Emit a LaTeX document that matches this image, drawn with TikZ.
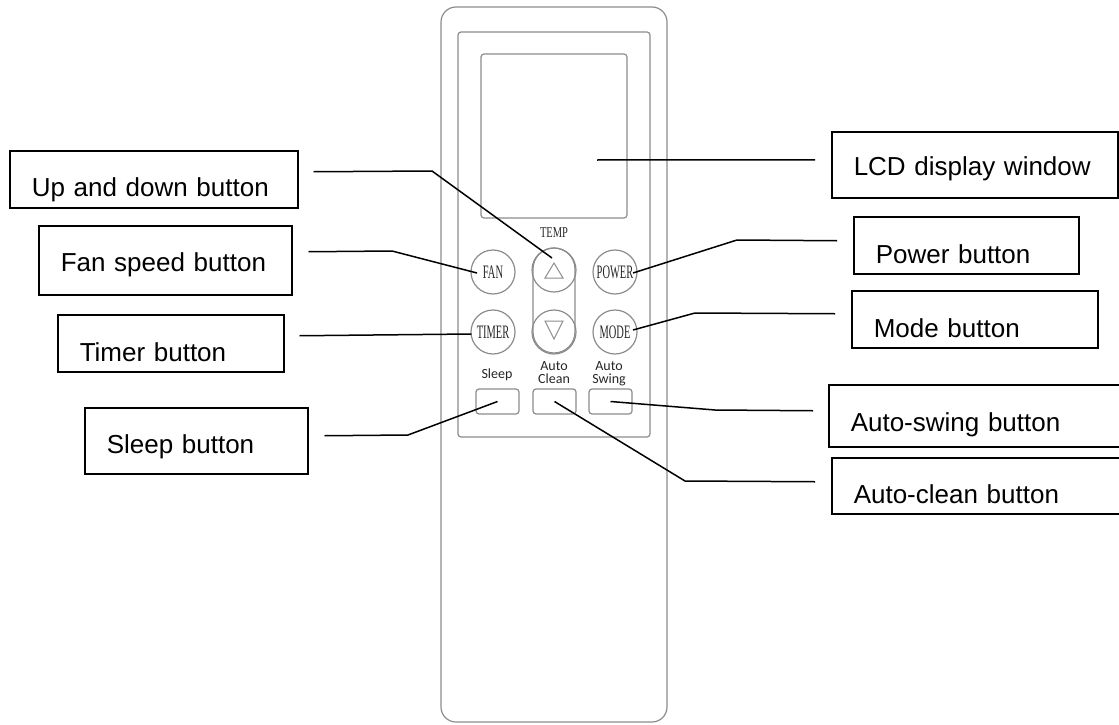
\documentclass[tikz,border=0pt]{standalone}
\usepackage{fontspec}
\setmainfont{Liberation Sans}
\newfontfamily\btnfont[FakeStretch=0.55]{Liberation Serif}
\newfontfamily\tempfont[FakeStretch=0.7]{Liberation Serif}
\newfontfamily\keyfont{Carlito}
\usepackage{tikz}

\begin{document}
\begin{tikzpicture}[x=1pt, y=-1pt,
	body/.style={draw=black!45, line width=1.2pt},
	btn/.style={body, circle, minimum size=44pt, inner sep=0pt, text=black!85, font=\btnfont\fontsize{19}{19}\selectfont},
	pad/.style={body, rounded corners=3pt, minimum width=43pt, minimum height=25pt},
	padtext/.style={anchor=north, align=center, inner sep=0pt, text=black!85, font=\keyfont\fontsize{14}{13}\selectfont},
	tag/.style={draw, line width=1.5pt, anchor=north west, align=left, inner xsep=22pt, inner ysep=0pt, text depth=0pt, text height=#1, font=\fontsize{26}{30}\selectfont},
	lead/.style={line width=1.5pt}]
	\useasboundingbox (0,0) rectangle (1119,725);
	\draw[body, rounded corners=15pt] (441,7) rectangle (667,722);
	\draw[body, rounded corners=3pt] (458,32) rectangle (650,437);
	\node[body, rounded corners=3pt, minimum width=146pt, minimum height=164pt] (lcd) at (554,136) {};
	\node[text=black!85, font=\tempfont\fontsize{15}{15}\selectfont] (temp) at (554,233) {TEMP};
	\draw[body, rounded corners=21pt] (533,248) rectangle (575,353);
	\foreach \n/\t/\x/\y in {fan/FAN/493/272, power/POWER/615/272, timer/TIMER/493/332, mode/MODE/615/332}
		\node[btn] (\n) at (\x,\y) {\t};
	\foreach \n/\y in {up/270, down/332}
		\node[btn] (\n) at (554,\y) {};
	\draw[body, line width=1pt] ([shift={(-9,8)}]up.center) -- ([shift={(9,8)}]up.center) -- ([shift={(0,-7)}]up.center) -- cycle;
	\draw[body, line width=1pt] ([shift={(-9,-11)}]down.center) -- ([shift={(9,-11)}]down.center) -- ([shift={(0,7)}]down.center) -- cycle;
	\foreach \n/\x in {sleep/497.5, clean/554.5, swing/610.5}
		\node[pad] (\n) at (\x,401.5) {};
	\node[padtext] (sleeptext) at (497,369) {Sleep};
	\node[padtext] (cleantext) at (554,361) {Auto\\Clean};
	\node[padtext] (swingtext) at (609,361) {Auto\\Swing};

	\node[tag=34.6pt, text width=244pt, minimum height=57pt] (updown) at (9,150) {Up and down button};
	\node[tag=21.6pt, text width=209pt, minimum height=69pt] (fanbox) at (38,225) {Fan speed button};
	\node[tag=35.6pt, text width=182pt, minimum height=57pt] (timerbox) at (57,314) {Timer button};
	\node[tag=25.6pt, text width=179pt, minimum height=66pt] (sleepbox) at (84,407) {Sleep button};
	\node[tag=20.6pt, text width=242pt, minimum height=66pt] (lcdbox) at (831,131) {LCD display window};
	\node[tag=35.6pt, text width=181pt, minimum height=57pt] (powerbox) at (853,216) {Power button};
	\node[tag=35.6pt, text width=202pt, minimum height=57pt] (modebox) at (851,290) {Mode button};
	\node[tag=30.6pt, text width=263pt, minimum height=62pt] (swingbox) at (828,384) {Auto-swing button};
	\node[tag=34.6pt, text width=260pt, minimum height=56pt] (cleanbox) at (831,457) {Auto-clean button};

	\draw[lead] ([shift={(15,-7.5)}]updown.east) -- (432,171) -- ([shift={(-2,-12)}]up.center);
	\draw[lead] ([shift={(16,-8.5)}]fanbox.east) -- (392,251) -- ([shift={(-16,1)}]fan.center);
	\draw[lead] ([shift={(15,-7.5)}]timerbox.east) -- ([shift={(1,2)}]timer.west);
	\draw[lead] ([shift={(16,-5)}]sleepbox.east) -- (408,435) -- (sleep.center);
	\draw[lead] ([shift={(43,24)}]lcd.center) -- ([shift={(-16,-5)}]lcdbox.west);
	\draw[lead] ([shift={(18,1)}]power.center) -- (737,240) -- ([shift={(-16,-4.5)}]powerbox.west);
	\draw[lead] ([shift={(18,-2)}]mode.center) -- (695,313) -- ([shift={(-16,-5.5)}]modebox.west);
	\draw[lead] (swing.center) -- (715,410) -- ([shift={(-15,-5)}]swingbox.west);
	\draw[lead] (clean.center) -- (685,481) -- ([shift={(-16,-4)}]cleanbox.west);
\end{tikzpicture}
\end{document}
